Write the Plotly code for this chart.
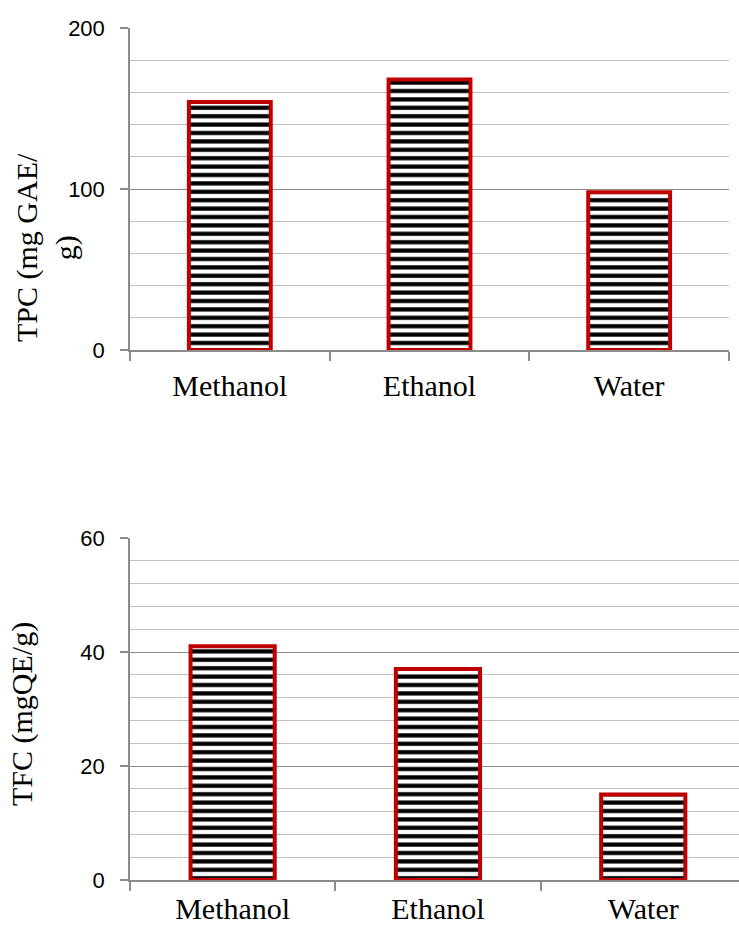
import plotly.graph_objects as go

categories = ["Methanol", "Ethanol", "Water"]
tpc_values = [154, 168, 98]
tfc_values = [41, 37, 15]
tpc_ticks = [0, 100, 200]
tfc_ticks = [0, 20, 40, 60]

W, H = 739, 928
red = "#C00000"
major_grid = "#8c8c8c"
minor_grid = "#bfbfbf"

def px_x(p):
    return p / W

def px_y(p):
    return 1 - p / H

fig = go.Figure()

bar_style = dict(
    width=0.41,
    marker=dict(
        color="white",
        line=dict(color=red, width=4),
        pattern=dict(shape="-", size=8.4, solidity=0.5, fgcolor="black",
                     bgcolor="white", fillmode="replace"),
    ),
    showlegend=False,
    hoverinfo="x+y",
)

fig.add_trace(go.Bar(x=categories, y=tpc_values, xaxis="x", yaxis="y", **bar_style))
fig.add_trace(go.Bar(x=categories, y=tfc_values, xaxis="x2", yaxis="y2", **bar_style))

tick_font = dict(family="Liberation Sans, Arial, sans-serif", size=22, color="black")
cat_font = dict(family="Liberation Serif, Times New Roman, serif", size=30, color="black")

xcommon = dict(
    type="category", automargin=False,
    showline=True, linecolor=major_grid, linewidth=1.5,
    ticks="outside", tickson="boundaries", ticklen=9, tickcolor=major_grid, tickwidth=1.5,
    showgrid=False, tickfont=cat_font,
    zeroline=False,
)
ycommon = dict(
    automargin=False,
    showline=True, linecolor=major_grid, linewidth=1.5,
    ticks="outside", ticklen=8, tickcolor=major_grid, tickwidth=1.5,
    showgrid=True, gridcolor=major_grid, gridwidth=1.3,
    tickfont=tick_font, zeroline=False, ticklabelstandoff=11,
)

fig.update_layout(
    width=W, height=H,
    margin=dict(l=0, r=0, t=0, b=0, autoexpand=False),
    paper_bgcolor="white", plot_bgcolor="white",
    bargap=0.59,
    xaxis=dict(domain=[px_x(130), px_x(729)], anchor="y", range=[-0.5, 2.5],
               ticklabelstandoff=8, **xcommon),
    yaxis=dict(domain=[px_y(350), px_y(28)], anchor="x", range=[0, 200],
               tickvals=tpc_ticks,
               minor=dict(dtick=20, showgrid=True, gridcolor=minor_grid, gridwidth=1.3, ticks=""),
               **ycommon),
    xaxis2=dict(domain=[px_x(130), 1.0], anchor="y2",
                range=[-0.5, -0.5 + (W - 130) / 205.3],
                ticklabelstandoff=1, **xcommon),
    yaxis2=dict(domain=[px_y(880), px_y(538)], anchor="x2", range=[0, 60],
                tickvals=tfc_ticks,
                minor=dict(dtick=4, showgrid=True, gridcolor=minor_grid, gridwidth=1.3, ticks=""),
                **ycommon),
    annotations=[
        dict(text="TPC (mg GAE/<br>g)", xref="paper", yref="paper",
             x=px_x(47), y=px_y(248), textangle=-90, showarrow=False,
             font=dict(family="Liberation Serif, Times New Roman, serif", size=30, color="black"),
             xanchor="center", yanchor="middle"),
        dict(text="TFC (mgQE/g)", xref="paper", yref="paper",
             x=px_x(22), y=px_y(714), textangle=-90, showarrow=False,
             font=dict(family="Liberation Serif, Times New Roman, serif", size=30, color="black"),
             xanchor="center", yanchor="middle"),
    ],
)

fig.write_html(
    "out.html",
    config={"displayModeBar": False},
    post_script="document.body.style.margin='0';document.body.style.overflow='hidden';",
)
